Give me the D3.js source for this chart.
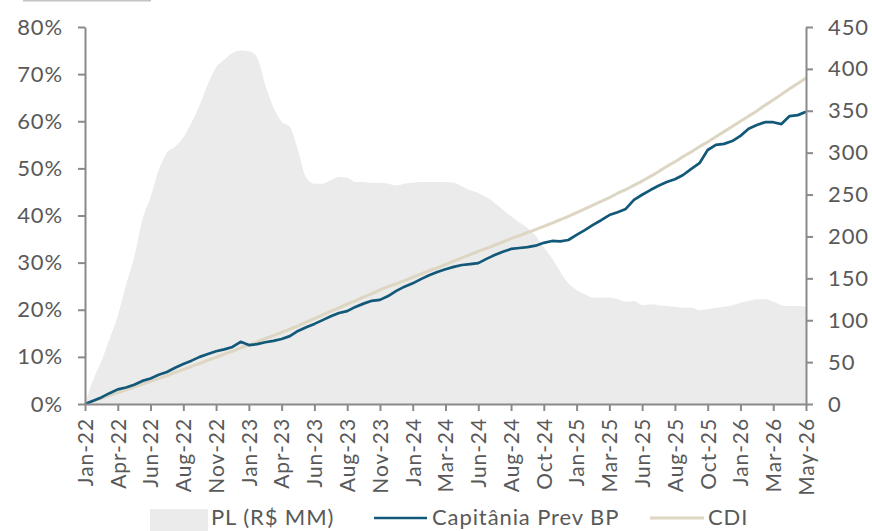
<!DOCTYPE html>
<html>
<head>
<meta charset="utf-8">
<script src="https://cdn.jsdelivr.net/npm/d3@7"></script>
<style>
  body { margin: 0; background: #fff; }
  svg text { font-family: Lato, "Noto Sans", sans-serif; fill: #595959; letter-spacing: 0.9px; }
</style>
</head>
<body>
<svg width="872" height="531"></svg>
<script>
// x labels (evenly spaced along the series index)
var tick_labels = ['Jan-22','Apr-22','Jun-22','Aug-22','Nov-22','Jan-23','Apr-23','Jun-23','Aug-23','Nov-23',
  'Jan-24','Mar-24','Jun-24','Aug-24','Oct-24','Jan-25','Mar-25','Jun-25','Aug-25','Oct-25','Jan-26','Mar-26','May-26']

// PL (R$ MM) - right axis
var pl = [0,29,51,78,105,142,175,220,247,279,300,307,318,336,357,382,402,411,419,422,
  421,414,381,354,337,331,303,270,263,263,267,271,270,265,265,264,264,263,261,263,
  264,265,265,265,265,264,260,255,252,247,240,232,224,217,210,201,187,174,158,144,
  136,131,127,127,127,125,122,123,118,119,118,117,116,115,115,112,113,115,116,118,
  121,123,125,125,122,118,117,117,116]

// Capitania Prev BP, cumulative % - left axis
var capitania = [0,0.7,1.4,2.3,3.1,3.5,4.1,4.9,5.4,6.2,6.8,7.7,8.5,9.2,10.0,10.6,11.2,11.6,12.1,13.2,
  12.5,12.7,13.1,13.4,13.8,14.4,15.5,16.3,17.0,17.8,18.6,19.3,19.7,20.6,21.3,21.9,22.1,22.9,24.0,24.9,
  25.6,26.5,27.3,28.0,28.6,29.1,29.5,29.7,29.9,30.8,31.6,32.3,32.9,33.1,33.3,33.6,34.2,34.6,34.5,34.8,
  35.9,36.9,38.0,39.0,40.1,40.7,41.4,43.3,44.4,45.4,46.3,47.1,47.7,48.6,49.9,51.1,53.9,55.0,55.2,55.8,
  56.9,58.4,59.2,59.8,59.8,59.4,61.1,61.3,62.0]

// CDI, cumulative % - left axis
var cdi = [0,0.6,1.2,1.8,2.4,3.0,3.6,4.2,4.8,5.4,6.0,6.7,7.3,8.0,8.6,9.3,9.9,10.6,11.2,11.9,
  12.5,13.2,13.9,14.5,15.2,15.9,16.6,17.4,18.1,18.9,19.7,20.4,21.2,21.9,22.7,23.4,24.2,24.9,25.5,26.2,
  26.9,27.6,28.3,28.9,29.6,30.3,31.0,31.7,32.4,33.0,33.7,34.4,35.1,35.7,36.4,37.0,37.7,38.4,39.1,39.8,
  40.6,41.4,42.2,43.0,43.8,44.7,45.5,46.4,47.3,48.3,49.3,50.4,51.4,52.5,53.5,54.6,55.6,56.7,57.8,58.9,
  60.0,61.1,62.2,63.4,64.5,65.7,66.9,68.0,69.2]

var left_ticks = [0,10,20,30,40,50,60,70,80]
var right_ticks = [0,50,100,150,200,250,300,350,400,450]

var svg = d3.select('svg')
var axis_color = '#8a8a8a'

var x = d3.scaleLinear().domain([0, pl.length - 1]).range([85, 806])
var yl = d3.scaleLinear().domain([0, 80]).range([404, 27])
var yr = d3.scaleLinear().domain([0, 450]).range([404, 27])

// stray border piece at the top
svg.append('line')
    .attr('x1', 23).attr('x2', 151).attr('y1', 0.5).attr('y2', 0.5)
    .style('stroke', '#c4c4c4').style('stroke-width', 2)

// PL area
var area = d3.area()
    .x((d, i) => x(i))
    .y0(yr(0))
    .y1(d => yr(d))
    .curve(d3.curveMonotoneX)

svg.append('path')
    .attr('d', area(pl))
    .style('fill', '#ebebeb')

// lines
var line_cdi = d3.line().x((d, i) => x(i)).y(d => yl(d)).curve(d3.curveMonotoneX)
var line_cap = d3.line().x((d, i) => x(i)).y(d => yl(d))

svg.append('path')
    .attr('d', line_cdi(cdi))
    .style('fill', 'none')
    .style('stroke', '#dcd6c2')
    .style('stroke-width', 3)

svg.append('path')
    .attr('d', line_cap(capitania))
    .style('fill', 'none')
    .style('stroke', '#125878')
    .style('stroke-width', 2.7)
    .style('stroke-linejoin', 'round')

// axes
function styleAxis(g) {
    g.selectAll('path, line').style('stroke', axis_color).style('stroke-width', 2)
    g.selectAll('text').style('font-size', '22px').style('fill', '#595959')
}

var xAxis = d3.axisBottom(x)
    .tickValues(tick_labels.map((d, i) => i * 4))
    .tickFormat((d, i) => tick_labels[i])
    .tickSize(7).tickSizeOuter(0)

svg.append('g')
    .attr('transform', `translate(0,${yl(0)})`)
    .call(xAxis)
    .call(styleAxis)
    .call(g => g.selectAll('text')
        .attr('transform', 'rotate(-90)')
        .attr('text-anchor', 'end')
        .attr('x', -14).attr('y', 0).attr('dy', '0.35em')
        .style('font-size', '21px'))

svg.append('g')
    .attr('transform', `translate(${x(0)},0)`)
    .call(d3.axisLeft(yl).tickValues(left_ticks).tickFormat(d => d + '%').tickSize(7).tickSizeOuter(0).tickPadding(15))
    .call(styleAxis)

svg.append('g')
    .attr('transform', `translate(${x(pl.length - 1)},0)`)
    .call(d3.axisRight(yr).tickValues(right_ticks).tickSize(7).tickSizeOuter(0).tickPadding(15))
    .call(styleAxis)

// legend (the reference crops it at the bottom edge)
var legend = svg.append('g')
legend.append('rect').attr('x', 150).attr('y', 509).attr('width', 58).attr('height', 30).style('fill', '#ebebeb')
legend.append('text').attr('x', 211).attr('y', 525).text('PL (R$ MM)').style('font-size', '22px')
legend.append('line').attr('x1', 374).attr('x2', 427).attr('y1', 518).attr('y2', 518)
    .style('stroke', '#125878').style('stroke-width', 2.7)
legend.append('text').attr('x', 432).attr('y', 525).text('Capitânia Prev BP').style('font-size', '22px')
legend.append('line').attr('x1', 650).attr('x2', 704).attr('y1', 518).attr('y2', 518)
    .style('stroke', '#dcd6c2').style('stroke-width', 3)
legend.append('text').attr('x', 708).attr('y', 525).text('CDI').style('font-size', '22px')
</script>
</body>
</html>
